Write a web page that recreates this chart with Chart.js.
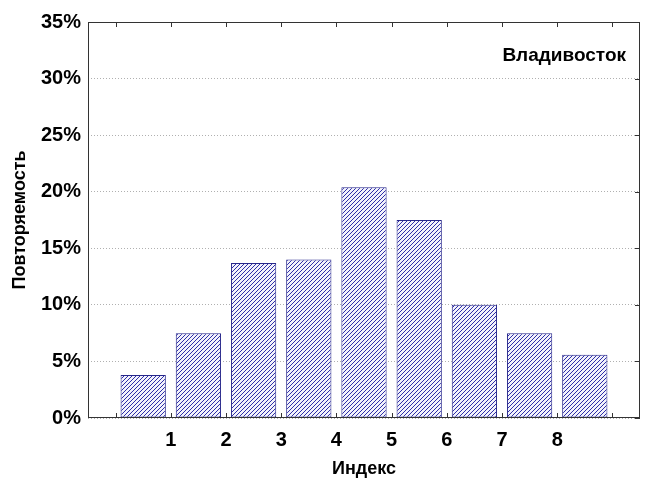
<!DOCTYPE html>
<html>
<head>
<meta charset="utf-8">
<script src="https://cdn.jsdelivr.net/npm/chart.js@4"></script>
<style>
  html, body { margin: 0; padding: 0; background: #fff; }
  #wrap { width: 645px; height: 482px; }
</style>
</head>
<body>
<div id="wrap"><canvas id="chart" width="645" height="482"></canvas></div>
<script>
// Повторяемость по индексу, Владивосток
const values = [3.8, 7.5, 13.7, 14.0, 20.4, 17.5, 10.0, 7.5, 5.6];
const xTickLabels = ['1', '2', '3', '4', '5', '6', '7', '8'];
const yTicks = [0, 5, 10, 15, 20, 25, 30, 35];
const stationName = 'Владивосток';

const FONT = '"Liberation Sans", Arial, sans-serif';

// hatch pattern for the bars
function makeHatch() {
  const c = document.createElement('canvas');
  c.width = 4; c.height = 4;
  const g = c.getContext('2d');
  g.fillStyle = '#f2f2fb';
  g.fillRect(0, 0, 4, 4);
  g.strokeStyle = '#2e2ea8';
  g.lineWidth = 1;
  g.beginPath();
  g.moveTo(0, 4); g.lineTo(4, 0);
  g.moveTo(-1, 1); g.lineTo(1, -1);
  g.moveTo(3, 5); g.lineTo(5, 3);
  g.stroke();
  return g.createPattern(c, 'repeat');
}

// frame around the plot + inward ticks + station label
const framePlugin = {
  id: 'frame',
  afterDraw(chart) {
    const { ctx, chartArea: a, scales } = chart;
    ctx.save();
    ctx.strokeStyle = '#333';
    ctx.lineWidth = 1;
    ctx.strokeRect(a.left + 0.5, a.top + 0.5, a.right - a.left - 1, a.bottom - a.top - 1);
    ctx.beginPath();
    for (let v = 0; v <= 9; v++) {
      const x = Math.round(scales.x.getPixelForValue(v)) + 0.5;
      ctx.moveTo(x, a.bottom); ctx.lineTo(x, a.bottom - 5);
      ctx.moveTo(x, a.top); ctx.lineTo(x, a.top + 5);
    }
    yTicks.forEach(v => {
      const y = Math.round(scales.y.getPixelForValue(v)) + 0.5;
      ctx.moveTo(a.right, y); ctx.lineTo(a.right - 5, y);
    });
    ctx.stroke();
    ctx.fillStyle = '#000';
    ctx.font = 'bold 19px ' + FONT;
    ctx.textAlign = 'right';
    ctx.textBaseline = 'middle';
    ctx.fillText(stationName, a.right - 14, 56);
    ctx.restore();
  }
};

new Chart(document.getElementById('chart'), {
  type: 'bar',
  data: {
    datasets: [{
      data: values.map((v, i) => ({ x: i + 0.5, y: v })),
      backgroundColor: makeHatch(),
      borderColor: '#26268a',
      borderWidth: 1,
      borderSkipped: false,
      barPercentage: 1.0,
      categoryPercentage: 0.82,
    }],
  },
  options: {
    responsive: false,
    animation: false,
    events: [],
    layout: { padding: { top: 22, right: 5, left: 0, bottom: 0 } },
    plugins: {
      legend: { display: false },
      tooltip: { enabled: false },
    },
    scales: {
      x: {
        type: 'linear',
        min: -0.5,
        max: 9.5,
        offset: false,
        afterBuildTicks: scale => {
          scale.ticks = xTickLabels.map(l => ({ value: Number(l) }));
        },
        afterFit: scale => { scale.height = 64; },
        ticks: {
          color: '#000',
          font: { family: FONT, size: 20, weight: 'bold' },
          padding: 2,
          maxRotation: 0,
          callback: v => String(v),
        },
        grid: { display: false },
        border: { display: false },
        title: {
          display: true,
          text: 'Индекс',
          color: '#000',
          font: { family: FONT, size: 18, weight: 'bold' },
          padding: { top: 4, bottom: 2 },
        },
      },
      y: {
        min: 0,
        max: 35,
        afterBuildTicks: scale => {
          scale.ticks = yTicks.map(v => ({ value: v }));
        },
        afterFit: scale => { scale.width = 88; },
        ticks: {
          color: '#000',
          font: { family: FONT, size: 20, weight: 'bold' },
          padding: 7,
          callback: v => v + '%',
        },
        grid: {
          color: '#b0b0b0',
          drawTicks: false,
          lineWidth: 1,
        },
        border: { display: false, dash: [1, 2] },
        title: {
          display: true,
          text: 'Повторяемость',
          color: '#000',
          font: { family: FONT, size: 18, weight: 'bold' },
          padding: { bottom: 0, top: 9 },
        },
      },
    },
  },
  plugins: [framePlugin],
});
</script>
</body>
</html>
